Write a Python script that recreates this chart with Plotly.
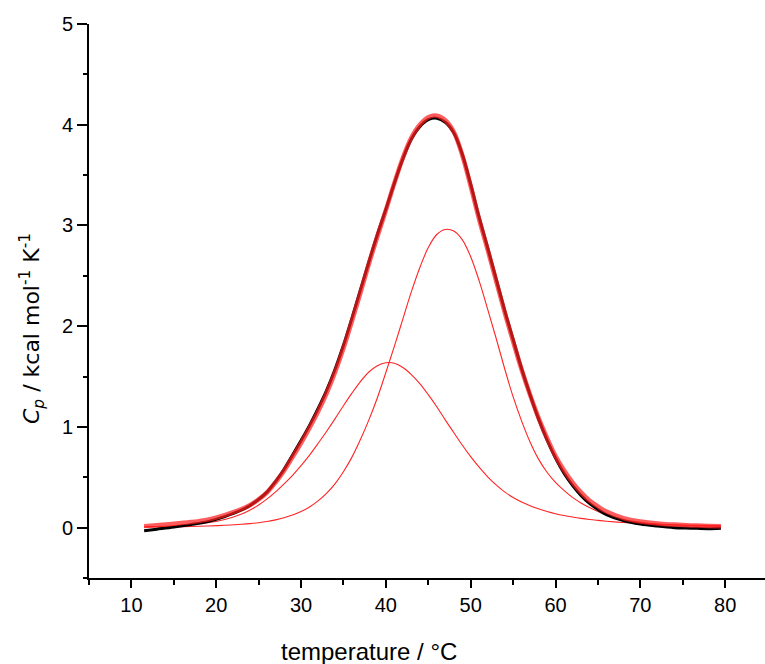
import plotly.graph_objects as go

# temperature grid (°C)
temp = [11.5, 13, 15, 17, 19, 21, 23,
        24, 25, 26, 27, 28, 29, 30, 31, 32, 33, 34, 35, 36, 37, 38, 39, 40, 41, 42, 43, 44, 45,
        46, 47, 48, 49, 50, 51, 52, 53, 54, 55, 56, 57, 58, 59, 60, 61, 62, 63, 64, 65, 66,
        68, 70, 72, 74, 76, 78, 79.5]

# measured Cp (black)
cp_data = [-0.03, -0.015, 0.005, 0.03, 0.06, 0.11, 0.175,
           0.22, 0.28, 0.355, 0.46, 0.58, 0.72, 0.865, 1.015, 1.18, 1.36,
           1.57, 1.81, 2.08, 2.36, 2.64, 2.91, 3.16, 3.42, 3.66, 3.855,
           3.98, 4.05, 4.065, 4.025, 3.92, 3.71, 3.41, 3.08, 2.78, 2.47,
           2.16, 1.87, 1.58, 1.32, 1.08, 0.87, 0.69, 0.54, 0.42, 0.32,
           0.24, 0.18, 0.13,
           0.07, 0.035, 0.015, 0.0, -0.005, -0.01, -0.005]

# total fit (thick red)
cp_fit = [0.015, 0.025, 0.038, 0.055, 0.08, 0.125, 0.185,
          0.225, 0.28, 0.35, 0.45, 0.565, 0.70, 0.84, 0.99, 1.15, 1.33,
          1.54, 1.78, 2.05, 2.33, 2.62, 2.89, 3.15, 3.42, 3.67, 3.87,
          4.00, 4.075, 4.09, 4.045, 3.93, 3.70, 3.39, 3.06, 2.76, 2.45,
          2.14, 1.85, 1.57, 1.32, 1.09, 0.89, 0.71, 0.57, 0.45, 0.35,
          0.27, 0.21, 0.16,
          0.095, 0.06, 0.04, 0.03, 0.022, 0.017, 0.013]

# component 1 (broad, low-T transition)
cp_comp1 = [0.008, 0.012, 0.019, 0.03, 0.048, 0.08, 0.135,
            0.175, 0.225, 0.285, 0.355, 0.435, 0.52, 0.615, 0.72, 0.835, 0.955,
            1.08, 1.21, 1.335, 1.45, 1.545, 1.608, 1.637, 1.632, 1.59, 1.52,
            1.43, 1.32, 1.20, 1.07, 0.945, 0.82, 0.705, 0.60, 0.505, 0.425,
            0.355, 0.30, 0.255, 0.218, 0.187, 0.16, 0.138, 0.12, 0.105, 0.092,
            0.081, 0.072, 0.064,
            0.051, 0.041, 0.034, 0.028, 0.024, 0.02, 0.018]

# component 2 (sharper, high-T transition)
cp_comp2 = [0.006, 0.007, 0.009, 0.012, 0.016, 0.023, 0.033,
            0.04, 0.049, 0.061, 0.077, 0.098, 0.125, 0.16, 0.205, 0.265, 0.34,
            0.435, 0.555, 0.70, 0.875, 1.07, 1.29, 1.54, 1.80, 2.07, 2.34,
            2.58, 2.78, 2.91, 2.96, 2.945, 2.86, 2.69, 2.45, 2.17, 1.88,
            1.58, 1.30, 1.06, 0.85, 0.68, 0.55, 0.45, 0.37, 0.30, 0.245,
            0.20, 0.16, 0.125,
            0.08, 0.052, 0.035, 0.025, 0.019, 0.015, 0.013]

x_ticks = [10, 20, 30, 40, 50, 60, 70, 80]
y_ticks = [0, 1, 2, 3, 4, 5]

fig = go.Figure()
fig.add_trace(go.Scatter(x=temp, y=cp_comp1, mode="lines", line=dict(color="#ff2424", width=1.1, shape="spline"), hoverinfo="skip"))
fig.add_trace(go.Scatter(x=temp, y=cp_comp2, mode="lines", line=dict(color="#ff2424", width=1.1, shape="spline"), hoverinfo="skip"))
fig.add_trace(go.Scatter(x=temp, y=cp_data, mode="lines", line=dict(color="black", width=3, shape="spline")))
fig.add_trace(go.Scatter(x=temp, y=cp_fit, mode="lines", line=dict(color="rgba(255,30,30,0.72)", width=4.5, shape="spline")))

axis_font = dict(family="Liberation Sans, Arial, sans-serif", size=20, color="black")

fig.update_layout(
    width=765, height=664,
    margin=dict(l=89, r=0, t=24, b=86),
    paper_bgcolor="white", plot_bgcolor="white",
    showlegend=False,
    xaxis=dict(range=[5, 84.7], tickmode="array", tickvals=x_ticks, ticks="outside", ticklen=8,
               tickwidth=1.5, tickcolor="black", showline=True, linecolor="black", linewidth=2,
               showgrid=False, zeroline=False, tickfont=axis_font,
               minor=dict(dtick=5, tick0=5, ticks="outside", ticklen=5, tickwidth=1.5, tickcolor="black")),
    yaxis=dict(range=[-0.5, 5], tickmode="array", tickvals=y_ticks, ticks="outside", ticklen=10,
               tickwidth=1.5, tickcolor="black", showline=True, linecolor="black", linewidth=2,
               showgrid=False, zeroline=False, tickfont=axis_font,
               minor=dict(dtick=0.5, tick0=0, ticks="outside", ticklen=4, tickwidth=1.5, tickcolor="black")),
    annotations=[
        dict(text="temperature / °C", xref="paper", yref="paper", x=(369 - 89) / 676, y=-0.132,
             xanchor="center", yanchor="middle", showarrow=False,
             font=dict(family="Liberation Sans, Arial, sans-serif", size=24, color="black")),
        dict(text="<i>C<sub>p</sub></i> / kcal mol<sup>-1</sup> K<sup>-1</sup>", xref="paper", yref="paper",
             x=-(89 - 32) / 676, y=(578 - 329) / 554, xanchor="center", yanchor="middle", textangle=-90,
             showarrow=False, font=dict(family="DejaVu Sans, Verdana, sans-serif", size=22, color="black")),
    ],
)

fig.write_html("out.html")
